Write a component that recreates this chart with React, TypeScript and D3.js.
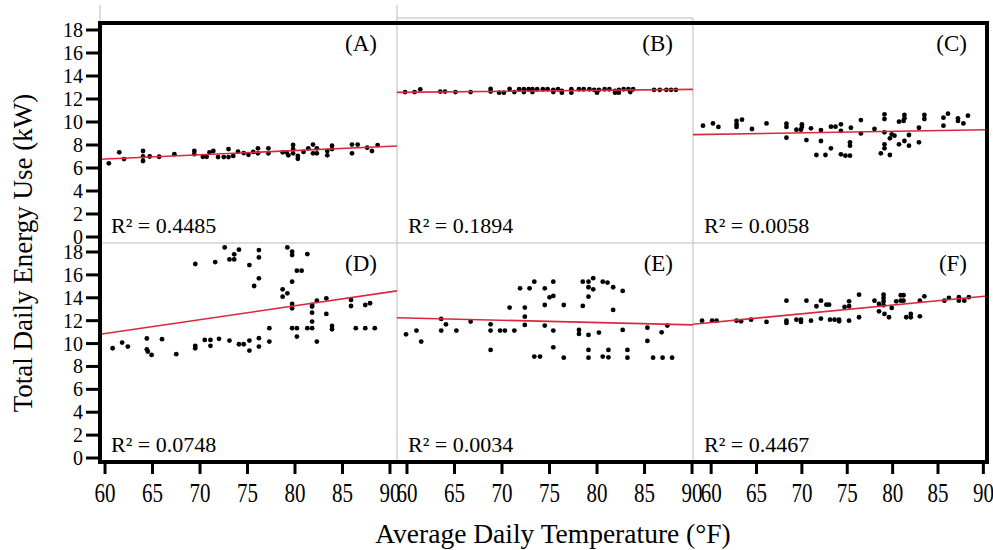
import * as d3 from "d3";

// ---- data ----
const xTicks = [60, 65, 70, 75, 80, 85, 90];
const yTicks = [0, 2, 4, 6, 8, 10, 12, 14, 16, 18];
const panelNames = ["(A)", "(B)", "(C)", "(D)", "(E)", "(F)"];
const r2Values = ["0.4485", "0.1894", "0.0058", "0.0748", "0.0034", "0.4467"];

// temperature (°F) at the left / right edge of each column of panels
const columnTempEdges = [
  [59.47, 90.74],
  [58.95, 90.1],
  [58.0, 90.4],
];

// fitted energy use (kW) at the left / right edge of each panel
const fitAtEdges = [
  [6.76, 7.91],
  [12.58, 12.84],
  [8.9, 9.33],
  [10.81, 14.6],
  [12.26, 11.63],
  [11.69, 14.16],
];

// [temperature °F, energy kW]
const panelA = [
  [60.4, 6.41], [61.5, 7.36], [62.0, 6.78], [64.0, 7.48], [64.0, 7.0], [64.0, 6.61],
  [64.7, 7.0], [65.7, 6.98], [67.3, 7.2], [69.4, 7.48], [69.4, 7.2], [70.3, 6.98],
  [70.7, 6.98], [71.0, 7.36], [71.4, 7.48], [71.9, 6.95], [72.5, 6.95], [73.0, 6.95],
  [73.0, 7.65], [73.5, 7.05], [74.0, 7.42], [74.6, 7.3], [75.1, 7.15], [75.6, 7.4],
  [76.1, 7.71], [76.1, 7.28], [77.2, 7.71], [77.2, 7.28], [78.7, 7.36], [79.1, 7.36],
  [79.3, 7.1], [79.8, 8.0], [79.8, 7.65], [79.8, 7.28], [80.3, 7.05], [80.3, 6.8],
  [80.9, 7.4], [81.4, 7.71], [81.9, 8.04], [81.9, 7.28], [82.3, 7.71], [82.3, 7.28],
  [83.4, 7.48], [83.4, 7.1], [83.9, 7.95], [83.9, 7.65], [86.0, 8.04], [86.6, 8.04],
  [86.0, 7.28], [87.6, 7.77], [88.1, 7.48], [88.7, 7.99],
];

const panelB = [
  [59.8, 12.6], [60.8, 12.6], [61.4, 12.84], [63.5, 12.65], [64.0, 12.65], [65.1, 12.6],
  [66.7, 12.6], [68.8, 12.87], [68.8, 12.65], [69.7, 12.55], [70.2, 12.55], [70.8, 12.87],
  [71.3, 12.6], [71.8, 12.85], [72.3, 12.85], [72.8, 12.85], [73.2, 12.85], [73.7, 12.85],
  [74.3, 12.85], [74.8, 12.85], [75.4, 12.8], [75.9, 12.85], [72.3, 12.6], [73.2, 12.6],
  [75.4, 12.6], [76.3, 12.7], [76.3, 12.55], [77.3, 12.85], [77.3, 12.55], [78.1, 12.85],
  [78.6, 12.85], [79.2, 12.85], [79.7, 12.8], [80.2, 12.8], [80.8, 12.85], [81.3, 12.85],
  [81.9, 12.7], [82.3, 12.8], [80.0, 12.55], [81.9, 12.55], [82.3, 12.55], [82.8, 12.85],
  [83.3, 12.85], [83.5, 12.6], [83.8, 12.85], [86.0, 12.8], [86.6, 12.8], [87.3, 12.8],
  [87.8, 12.8], [88.3, 12.8],
];

const panelC = [
  [59.1, 9.68], [60.2, 9.88], [60.8, 9.57], [62.8, 10.09], [62.8, 9.8], [62.8, 9.57],
  [63.4, 10.2], [64.5, 9.39], [66.1, 9.88], [68.3, 9.85], [68.3, 9.57], [68.3, 8.64],
  [69.4, 9.33], [69.9, 9.33], [70.0, 9.8], [70.0, 9.57], [70.5, 8.43], [71.0, 9.45],
  [71.6, 7.13], [72.1, 9.3], [72.1, 8.35], [72.6, 7.13], [73.2, 7.71], [73.2, 9.59],
  [73.7, 9.59], [74.3, 9.8], [74.3, 9.22], [74.3, 7.19], [74.8, 7.07], [75.3, 7.07],
  [75.3, 8.23], [75.3, 7.94], [75.4, 9.5], [76.5, 10.17], [76.5, 9.01], [78.0, 9.39],
  [78.7, 7.28], [79.1, 10.67], [79.1, 10.26], [79.1, 9.1], [79.1, 8.06], [79.1, 7.71],
  [79.7, 8.58], [79.7, 7.13], [79.9, 8.93], [80.2, 8.81], [80.7, 10.03], [81.2, 10.09],
  [81.3, 10.61], [81.3, 10.32], [80.7, 8.06], [81.3, 8.35], [81.8, 8.87], [81.8, 7.94],
  [82.9, 9.5], [82.9, 8.23], [83.5, 10.61], [83.5, 10.26], [85.6, 10.38], [85.6, 9.68],
  [86.1, 10.72], [87.2, 10.32], [87.2, 10.09], [87.8, 9.88], [88.3, 10.55],
];

const panelD = [
  [60.8, 9.59], [61.8, 10.09], [62.4, 9.74], [64.4, 10.44], [64.4, 9.5], [64.5, 9.3],
  [64.9, 9.01], [66.0, 10.38], [67.5, 9.07], [69.5, 16.95], [69.5, 9.8], [69.5, 9.59],
  [70.5, 10.32], [71.1, 10.32], [71.1, 9.8], [71.6, 17.12], [72.0, 10.41], [72.6, 18.4],
  [73.1, 17.35], [73.6, 17.35], [73.6, 17.8], [73.1, 10.26], [74.1, 18.2], [74.1, 9.94],
  [74.6, 9.94], [75.2, 16.86], [75.2, 10.26], [75.2, 9.39], [75.7, 15.03], [76.2, 18.17],
  [76.2, 17.53], [76.2, 15.7], [76.2, 10.47], [76.2, 9.74], [77.3, 11.34], [77.3, 10.17],
  [78.7, 14.74], [78.7, 14.1], [79.2, 14.39], [79.2, 18.4], [79.7, 18.02], [79.7, 17.73],
  [79.7, 15.41], [79.7, 13.46], [79.7, 13.08], [79.7, 11.34], [80.2, 16.37], [80.7, 16.37],
  [80.2, 11.34], [80.2, 10.61], [81.3, 17.82], [81.3, 11.34], [81.8, 13.37], [81.8, 13.23],
  [81.8, 12.7], [81.8, 11.92], [81.8, 11.34], [82.3, 13.75], [82.3, 10.17], [83.3, 13.95],
  [83.3, 12.59], [83.9, 11.54], [83.9, 11.25], [85.9, 13.81], [85.9, 13.28], [86.4, 11.34],
  [87.4, 13.37], [87.9, 13.52], [87.4, 11.34], [88.4, 11.34],
];

const panelE = [
  [59.9, 10.81], [61.0, 11.13], [61.5, 10.17], [63.6, 12.15], [63.6, 11.13], [64.1, 11.68],
  [65.2, 11.13], [66.7, 11.92], [68.8, 11.68], [68.8, 11.13], [68.8, 9.44], [69.8, 11.13],
  [70.3, 11.13], [70.8, 13.14], [71.3, 11.13], [71.9, 14.83], [72.4, 13.14], [72.4, 12.35],
  [72.4, 11.63], [72.9, 14.83], [73.4, 15.41], [73.4, 8.86], [74.0, 8.86], [74.5, 14.83],
  [74.5, 13.37], [74.5, 11.57], [75.0, 14.04], [75.4, 14.16], [75.4, 15.41], [75.4, 11.13],
  [75.4, 9.67], [76.5, 13.37], [76.5, 8.77], [78.1, 11.19], [78.1, 10.84], [78.5, 15.41],
  [79.1, 15.41], [79.6, 15.71], [78.5, 13.29], [79.1, 14.92], [79.6, 14.74], [79.1, 14.1],
  [79.1, 10.75], [79.1, 9.44], [79.1, 8.77], [80.2, 10.96], [80.6, 15.41], [81.1, 15.33],
  [80.6, 8.86], [81.2, 8.8], [81.2, 9.44], [81.7, 14.92], [81.7, 12.94], [82.7, 14.6],
  [82.7, 11.19], [83.2, 9.44], [83.2, 8.77], [85.3, 11.39], [85.3, 10.23], [85.9, 8.77],
  [86.9, 8.77], [87.9, 8.77], [86.8, 10.98], [87.4, 11.57],
];

const panelF = [
  [59.0, 12.0], [60.1, 12.0], [60.6, 12.0], [62.8, 12.0], [63.3, 11.95], [64.4, 12.09],
  [66.1, 11.89], [68.3, 13.75], [68.3, 12.0], [68.3, 11.8], [69.4, 12.09], [69.9, 12.09],
  [69.9, 11.89], [70.5, 13.75], [71.0, 12.0], [71.6, 13.26], [72.1, 13.75], [72.1, 12.18],
  [72.7, 13.4], [73.0, 13.4], [73.1, 12.09], [73.6, 12.09], [74.1, 12.09], [74.1, 11.95],
  [74.7, 13.2], [75.2, 13.26], [75.2, 13.69], [75.2, 12.0], [76.3, 14.27], [76.3, 12.3],
  [78.0, 13.75], [78.5, 13.46], [78.5, 12.82], [79.0, 14.27], [79.0, 13.99], [79.0, 13.69],
  [79.0, 13.35], [79.1, 12.59], [79.6, 12.3], [79.9, 13.11], [80.4, 13.69], [80.9, 14.22],
  [80.9, 13.75], [81.2, 14.22], [81.2, 13.75], [81.5, 12.3], [82.0, 12.59], [82.0, 12.3],
  [83.0, 13.75], [83.5, 14.13], [83.0, 12.38], [85.7, 13.75], [86.2, 13.99], [87.3, 14.05],
  [87.3, 13.75], [87.9, 13.75], [88.4, 14.05],
];

const panelPoints = [panelA, panelB, panelC, panelD, panelE, panelF];

// ---- layout ----
const W = 993;
const H = 550;
const colX = [100, 397, 693, 987];
const rowY = [23, 243, 462];
const rowTickRange = [[237, 30], [458, 252]];
const font = "'Liberation Serif', 'Times New Roman', serif";
const red = "#d8283c";
const gridGray = "#d0d0d0";

export default function App() {
  const xScales = columnTempEdges.map((d, i) =>
    d3.scaleLinear().domain(d).range([colX[i], colX[i + 1]])
  );
  const yScales = rowTickRange.map((r) => d3.scaleLinear().domain([0, 18]).range(r));

  const fitLine = d3.line<number[]>().x((d) => d[0]).y((d) => d[1]);

  return (
    <svg
      width={W}
      height={H}
      style={{ position: "absolute", left: 0, top: 0, background: "#fff" }}
      fontFamily={font}
    >
      <defs>
        {panelNames.map((_, i) => {
          const c = i % 3;
          const r = Math.floor(i / 3);
          return (
            <clipPath id={`clip${i}`} key={i}>
              <rect x={colX[c]} y={rowY[r]} width={colX[c + 1] - colX[c]} height={rowY[r + 1] - rowY[r]} />
            </clipPath>
          );
        })}
      </defs>

      {/* light panel separators */}
      <g stroke={gridGray} strokeWidth={1.5} fill="none">
        <line x1={100} y1={5} x2={100} y2={23} />
        <line x1={397} y1={5} x2={397} y2={462} />
        <line x1={397} y1={18} x2={693} y2={18} />
        <line x1={693} y1={18} x2={693} y2={462} />
        <line x1={100} y1={243} x2={987} y2={243} />
      </g>

      {panelPoints.map((pts, i) => {
        const c = i % 3;
        const r = Math.floor(i / 3);
        const x = xScales[c];
        const y = yScales[r];
        const [t0, t1] = columnTempEdges[c];
        const [f0, f1] = fitAtEdges[i];
        return (
          <g key={i}>
            <g fill="#000">
              {pts.map((p, j) => (
                <circle key={j} cx={x(p[0])} cy={y(p[1])} r={2.4} />
              ))}
            </g>
            <path
              d={fitLine([[x(t0), y(f0)], [x(t1), y(f1)]]) || ""}
              stroke={red}
              strokeWidth={1.6}
              fill="none"
              clipPath={`url(#clip${i})`}
            />
            <text
              x={colX[c + 1] - 20}
              y={rowY[r] + 28}
              textAnchor="end"
              fontSize={23}
            >
              {panelNames[i]}
            </text>
            <text x={colX[c] + 11} y={rowY[r + 1] - 10} fontSize={22}>
              {`R² = ${r2Values[i]}`}
            </text>
          </g>
        );
      })}

      {/* outer frame */}
      <rect x={100} y={23} width={887} height={439} fill="none" stroke="#000" strokeWidth={4} />

      {/* y axes */}
      {yScales.map((y, r) => (
        <g key={r}>
          {yTicks.map((t) => (
            <g key={t}>
              <line x1={86} x2={100} y1={y(t)} y2={y(t)} stroke="#000" strokeWidth={3} />
              <text x={83} y={y(t)} dy="0.35em" textAnchor="end" fontSize={20}>
                {t}
              </text>
            </g>
          ))}
        </g>
      ))}

      {/* x axes */}
      {xScales.map((x, c) => (
        <g key={c}>
          {xTicks.map((t) => (
            <g key={t}>
              <line x1={x(t)} x2={x(t)} y1={462} y2={474} stroke="#000" strokeWidth={3} />
              <text
                transform={`translate(${x(t)},502) scale(0.75,1)`}
                textAnchor="middle"
                fontSize={28}
              >
                {t}
              </text>
            </g>
          ))}
        </g>
      ))}

      <text
        transform="translate(32,253) rotate(-90)"
        textAnchor="middle"
        fontSize={27}
      >
        Total Daily Energy Use (kW)
      </text>
      <text x={553} y={543} textAnchor="middle" fontSize={27.5}>
        Average Daily Temperature (°F)
      </text>
    </svg>
  );
}
